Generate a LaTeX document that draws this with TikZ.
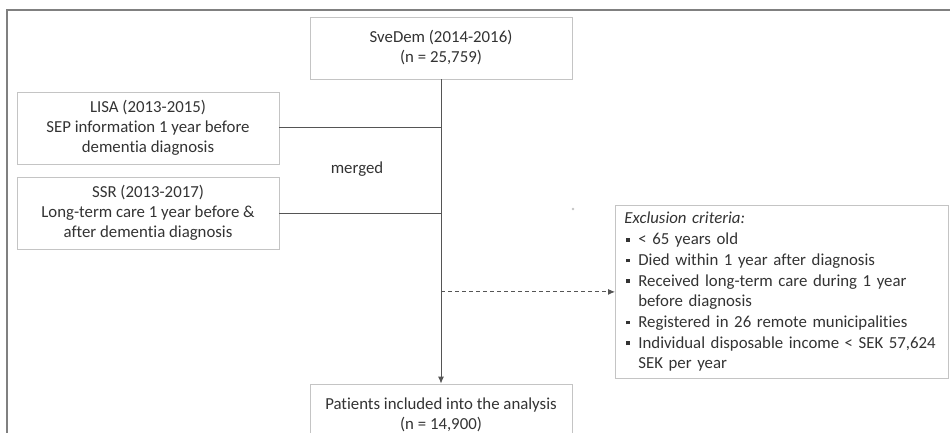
\documentclass[tikz,border=0pt]{standalone}
\usepackage{fontspec}
\setmainfont{Carlito}[Ligatures={NoCommon}]
\usetikzlibrary{arrows.meta}
\definecolor{txt}{HTML}{333333}
\definecolor{boxc}{HTML}{C4C4C4}
\definecolor{linec}{HTML}{555555}
\definecolor{framec}{HTML}{808080}
\newcommand{\blt}{\makebox[14pt][l]{\hspace{2pt}\raisebox{3pt}{\rule{3.8pt}{3.8pt}}}}
\newcommand{\bind}{\hspace*{14pt}}
\tikzset{
  boxnode/.style={draw=boxc, line width=0.8pt, text=txt, align=center, inner sep=0pt,
    font=\fontsize{16.8}{20}\selectfont},
  conn/.style={draw=linec, line width=1pt},
  tip/.style={-{Latex[length=7pt,width=6pt]}}
}
\begin{document}
\begin{tikzpicture}[x=1pt,y=-1pt]
\useasboundingbox (0,0) rectangle (950,433);
\clip (0,0) rectangle (950,433);
\fill[white] (0,0) rectangle (950,433);
% outer frame
\draw[framec, line width=1.6pt] (7,440) -- (7,10) -- (960,10);
% nodes
\node[boxnode, minimum width=262pt, minimum height=62pt] (svedem) at (441,48) {SveDem (2014-2016)\\(n = 25,759)};
\node[boxnode, minimum width=262pt, minimum height=72pt] (lisa) at (148,128) {LISA (2013-2015)\\SEP information 1 year before\\dementia diagnosis};
\node[boxnode, minimum width=262pt, minimum height=72pt] (ssr) at (148,213) {SSR (2013-2017)\\Long-term care 1 year before \&\\after dementia diagnosis};
\node[text=txt, font=\fontsize{16.8}{20}\selectfont] (merged) at (357,169) {merged};
\node[boxnode, minimum width=262pt, minimum height=62pt] (incl) at (441,415) {Patients included into the analysis\\(n = 14,900)};
\node[draw=boxc, line width=0.8pt, text=txt, anchor=north west, minimum width=327pt, minimum height=173pt,
  text width=315pt, inner xsep=9pt, inner ysep=0pt, align=left,
  font=\fontsize{16.8}{20.7}\selectfont] (excl) at (615,205)
  {\textit{Exclusion criteria:}\\
   \blt< 65 years old\\
   \blt Died within 1 year after diagnosis\\
   \blt Received long-term care during 1 year\\
   \bind before diagnosis\\
   \blt Registered in 26 remote municipalities\\
   \blt Individual disposable income < SEK 57,624\\
   \bind SEK per year};
\fill[boxc] (573,209) circle (1.3pt);
% connectors
\draw[conn] (lisa.east) -- (lisa.east -| svedem.south);
\draw[conn] (ssr.east) -- (ssr.east -| svedem.south);
\draw[conn, tip] (svedem.south) -- (incl.north);
\coordinate (dj) at (excl.west -| svedem.south);
\draw[conn, tip, dashed, dash pattern=on 4pt off 3pt, line width=0.9pt] (dj) -- (excl.west);
\end{tikzpicture}
\end{document}
